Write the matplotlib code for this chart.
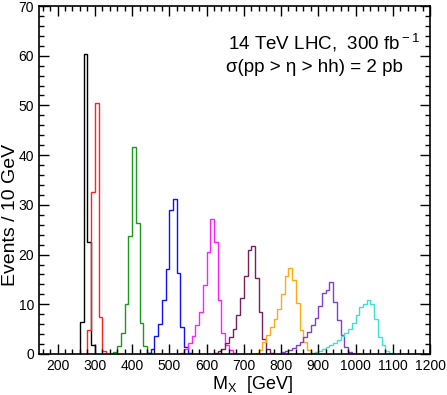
import numpy as np
import matplotlib
matplotlib.use("Agg")
import matplotlib.pyplot as plt
from matplotlib.ticker import MultipleLocator

plt.rcParams['font.family'] = ['Liberation Sans', 'DejaVu Sans']
plt.rcParams['mathtext.fontset'] = 'custom'
plt.rcParams['mathtext.rm'] = 'Liberation Sans'
plt.rcParams['mathtext.it'] = 'Liberation Sans:italic'

# events per 10 GeV bin, first value is the bin starting at *_start
black_start = 260
black_vals  = [6.5, 60.4, 22.6, 1.8]

red_start = 280
red_vals  = [4.8, 32.5, 50.4, 7.5, 0.7]

green_start = 350
green_vals  = [0.4, 1.7, 4.2, 10.1, 23.8, 41.6, 26.3, 6.2, 1.6, 0.3]

blue_start = 440
blue_vals  = [0.3, 1.0, 3.6, 6.1, 10.8, 17.1, 28.9, 31.2, 16.2, 5.5, 1.5, 0.3]

magenta_start = 530
magenta_vals  = [0.3, 1.0, 2.3, 3.7, 5.8, 8.5, 13.9, 20.6, 27.1, 22.5, 10.9, 4.2, 1.8, 0.9, 0.3]

plum_start = 620
plum_vals  = [0.3, 0.6, 1.0, 2.2, 3.5, 5.0, 7.8, 11.2, 15.6, 20.9, 21.7, 15.2, 8.5, 3.1, 1.0, 0.3]

orange_start = 730
orange_vals  = [0.3, 0.8, 2.5, 3.8, 5.5, 7.0, 9.0, 12.1, 15.6, 17.2, 14.9, 10.3, 4.8, 2.5, 0.9, 0.3]

purple_start = 800
purple_vals  = [0.4, 0.7, 0.9, 1.3, 1.8, 2.5, 3.4, 4.5, 5.8, 7.3, 9.7, 12.3, 12.9, 14.5, 10.4,
                6.8, 3.8, 1.5, 0.5]

cyan_start = 880
cyan_vals  = [0.3, 0.5, 0.7, 1.1, 1.5, 1.8, 2.3, 2.8, 3.6, 4.3, 5.0, 6.2, 7.8, 9.5, 10.1, 10.9,
              10.1, 7.0, 3.5, 1.8, 0.7, 0.3]

series = [
    (black_start, black_vals, "black"),
    (red_start, red_vals, "#ff2020"),
    (green_start, green_vals, "#1a9a1a"),
    (blue_start, blue_vals, "#1010ff"),
    (magenta_start, magenta_vals, "#ff20ff"),
    (plum_start, plum_vals, "#7a1f5e"),
    (orange_start, orange_vals, "#ffaa10"),
    (purple_start, purple_vals, "#7f3fd0"),
    (cyan_start, cyan_vals, "#40e0d0"),
]

bin_width = 10

fig = plt.figure(figsize=(4.47, 3.95), dpi=100)
ax = fig.add_axes([0.0872, 0.1038, 0.8748, 0.881])

for start, vals, col in series:
    edges = start + bin_width * np.arange(len(vals) + 1)
    ax.stairs(vals, edges, color=col, linewidth=1.0)

ax.set_xlim(150, 1200)
ax.set_ylim(0, 70)
ax.xaxis.set_major_locator(MultipleLocator(100))
ax.xaxis.set_minor_locator(MultipleLocator(20))
ax.yaxis.set_major_locator(MultipleLocator(10))
ax.yaxis.set_minor_locator(MultipleLocator(2))
ax.set_xticks(np.arange(200, 1201, 100))

ax.tick_params(which='both', direction='in', top=True, right=True, width=1.0, labelsize=10)
ax.tick_params(which='major', length=7)
ax.tick_params(which='minor', length=3.5)
for sp in ax.spines.values():
    sp.set_linewidth(1.2)

ax.set_xlabel(r"M$_{\rm X}$  [GeV]", fontsize=13)
ax.set_ylabel("Events / 10 GeV", fontsize=14)
ax.xaxis.set_label_coords(0.545, -0.058)
ax.yaxis.set_label_coords(-0.051, 0.40)

ax.text(0.483, 0.894, r"14 TeV LHC,  300 fb$^{\rm -1}$", transform=ax.transAxes,
        fontsize=13.5, va='center', ha='left')
ax.text(0.478, 0.822, "σ(pp > η > hh) = 2 pb", transform=ax.transAxes,
        fontsize=13.5, va='center', ha='left')

fig.savefig("out.png", dpi=100)
